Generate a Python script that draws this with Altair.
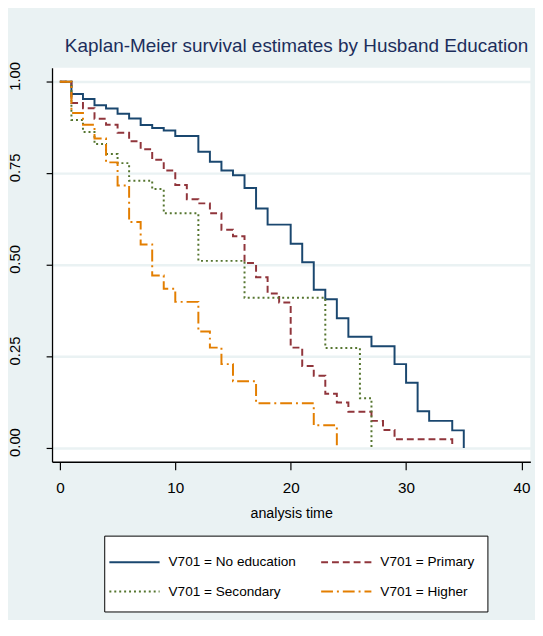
import altair as alt
import pandas as pd

# ---- data ----
groups = ["V701 = No education", "V701 = Primary", "V701 = Secondary", "V701 = Higher"]
colors = ["#1A476F", "#90353B", "#55752F", "#E37E00"]
dashes = [[1, 0], [7, 4], [2, 3], [12, 4, 2, 4]]

noedu_t = [0, 1, 2, 3, 4, 5, 6, 7, 8, 9, 10, 12, 13, 14, 15, 16, 17, 18, 20, 21, 22, 23, 24, 25, 27, 29, 30, 31, 32, 34, 35]
noedu_s = [1.0, 0.967, 0.953, 0.936, 0.927, 0.913, 0.900, 0.882, 0.874, 0.867, 0.852, 0.809, 0.782, 0.758, 0.745, 0.710,
           0.654, 0.610, 0.558, 0.507, 0.432, 0.406, 0.354, 0.304, 0.278, 0.229, 0.178, 0.100, 0.074, 0.048, 0.0]

prim_t = [0, 1, 2, 3, 4, 5, 6, 7, 8, 9, 10, 11, 12, 13, 14, 15, 16, 17, 18, 19, 20, 21, 22, 23, 24, 25, 27, 28, 29, 34]
prim_s = [1.0, 0.942, 0.928, 0.899, 0.883, 0.861, 0.838, 0.816, 0.787, 0.758, 0.718, 0.679, 0.668, 0.641, 0.596, 0.578,
          0.505, 0.466, 0.422, 0.397, 0.274, 0.224, 0.197, 0.148, 0.124, 0.099, 0.074, 0.049, 0.024, 0.0]

sec_t = [0, 1, 2, 3, 4, 5, 6, 8, 9, 12, 16, 23, 26, 27]
sec_s = [1.0, 0.896, 0.863, 0.830, 0.803, 0.778, 0.730, 0.707, 0.641, 0.511, 0.410, 0.273, 0.136, 0.0]

high_t = [0, 1, 2, 3, 4, 5, 6, 7, 8, 9, 10, 12, 13, 14, 15, 17, 22, 24]
high_s = [1.0, 0.915, 0.883, 0.845, 0.780, 0.717, 0.617, 0.556, 0.471, 0.435, 0.399, 0.318, 0.274, 0.229, 0.182, 0.122, 0.062, 0.0]

x_ticks = [0, 10, 20, 30, 40]
y_ticks = [0, 0.25, 0.5, 0.75, 1.0]

title_text = "Kaplan-Meier survival estimates by Husband Education"
x_title = "analysis time"

# ---- build table ----
rows = []
for k, (ts, ss) in enumerate([(noedu_t, noedu_s), (prim_t, prim_s), (sec_t, sec_s), (high_t, high_s)]):
    for t, s in zip(ts, ss):
        rows.append({"group": groups[k], "order": k, "time": t, "surv": s})
df = pd.DataFrame(rows)

FONT = "Liberation Sans, Arial, sans-serif"
BG = "#EAF2F3"

chart = alt.Chart(df).mark_line(interpolate="step-after", strokeWidth=2).encode(
    x=alt.X("time:Q",
            scale=alt.Scale(domain=[-0.68, 40.77], nice=False, zero=False),
            axis=alt.Axis(values=x_ticks, title=x_title, grid=False, tickSize=8, tickColor="black",
                          domainColor="black", domainWidth=1.3, tickWidth=1.2,
                          labelFont=FONT, labelFontSize=15.5, labelColor="black", labelPadding=11,
                          titleFont=FONT, titleFontSize=14.5, titleFontWeight="normal", titleColor="black",
                          titlePadding=11)),
    y=alt.Y("surv:Q",
            scale=alt.Scale(domain=[-0.0377, 1.0385], nice=False, zero=False),
            axis=alt.Axis(values=y_ticks, format=".2f", title=None, grid=True, gridColor=BG, gridWidth=2.5,
                          tickSize=6, tickColor="black", domainColor="black", domainWidth=1.3, tickWidth=1.2,
                          labelAngle=270, labelAlign="center", labelBaseline="bottom", labelOffset=-6,
                          labelFont=FONT, labelFontSize=15, labelColor="black", labelPadding=24)),
    color=alt.Color("group:N", scale=alt.Scale(domain=groups, range=colors),
                    legend=alt.Legend(title=None, orient="none", legendX=53, legendY=475, columns=2,
                                      direction="horizontal",
                                      symbolType="M-2,0H2", symbolSize=650, symbolStrokeWidth=2,
                                      symbolOffset=3.7,
                                      labelFont=FONT, labelFontSize=13.8, labelColor="black", labelOffset=20.6,
                                      columnPadding=21, rowPadding=8.8, padding=13,
                                      strokeColor="black", fillColor="white", labelLimit=300)),
    strokeDash=alt.StrokeDash("group:N", scale=alt.Scale(domain=groups, range=dashes), legend=None),
    order=alt.Order("order:Q"),
    detail="group:N",
).properties(
    width=485.6,
    height=400,
    title=alt.Title(title_text, anchor="start", frame="group", font=FONT, fontSize=19.2, fontWeight="normal",
                    color="#1C2E5C", dx=13, offset=5),
    autosize=alt.AutoSizeParams(type="none"),
    padding={"left": 44.7, "top": 56, "right": 4.7, "bottom": 156},
    background=BG,
).configure_view(fill="white", strokeWidth=0)

chart.save("out.html", embed_options={"renderer": "svg", "actions": False})
